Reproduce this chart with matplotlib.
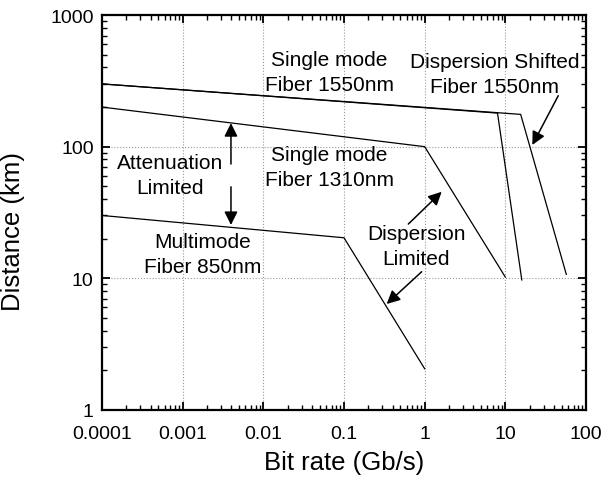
import matplotlib
matplotlib.use('Agg')
import matplotlib.pyplot as plt

plt.rcParams['font.family'] = ['Liberation Sans', 'DejaVu Sans']

##### DATA #####
# bit rate (Gb/s) / distance (km) break points
mm850_rate = [1e-4, 0.1, 1.0]
mm850_dist = [30, 20.3, 2.05]

sm1310_rate = [1e-4, 1.0, 10.0]
sm1310_dist = [200, 100, 10.2]

sm1550_rate = [1e-4, 8.0, 16.0]
sm1550_dist = [300, 180, 9.7]

dsf1550_rate = [1e-4, 15.5, 57.0]
dsf1550_dist = [300, 176, 10.7]

x_ticks = [1e-4, 1e-3, 1e-2, 1e-1, 1, 10, 100]
x_tick_labels = ['0.0001', '0.001', '0.01', '0.1', '1', '10', '100']
y_ticks = [1, 10, 100, 1000]
y_tick_labels = ['1', '10', '100', '1000']


fig = plt.figure(figsize=(6.06, 4.89), dpi=100)
ax = fig.add_axes([0.1683, 0.160, 0.7987, 0.807])

for rate, dist in [(mm850_rate, mm850_dist), (sm1310_rate, sm1310_dist),
                   (sm1550_rate, sm1550_dist), (dsf1550_rate, dsf1550_dist)]:
    ax.plot(rate, dist, color='black', lw=0.9)

ax.set_xscale('log')
ax.set_yscale('log')
ax.set_xlim(1e-4, 100)
ax.set_ylim(1, 1000)
ax.set_xticks(x_ticks)
ax.set_xticklabels(x_tick_labels)
ax.set_yticks(y_ticks)
ax.set_yticklabels(y_tick_labels)

ax.grid(True, which='major', color='#999999', linestyle=':', lw=0.8)
ax.tick_params(which='both', direction='in', top=True, right=True, labelsize=14)
ax.tick_params(axis='x', which='both', pad=11)
ax.tick_params(axis='y', which='both', pad=6)
ax.tick_params(which='major', length=6, width=1.3)
ax.tick_params(which='minor', length=3.5, width=1.0)
for s in ax.spines.values():
    s.set_linewidth(1.6)

ax.set_xlabel('Bit rate (Gb/s)', fontsize=18.5, labelpad=6)
ax.set_ylabel('Distance (km)', fontsize=18.5)
ax.yaxis.set_label_coords(-0.159, 0.453)

# labels
txt = dict(fontsize=15, ha='center', va='center', linespacing=1.4)
ax.text(0.066, 369, 'Single mode\nFiber 1550nm', **txt)
ax.text(7.3, 359, 'Dispersion Shifted\nFiber 1550nm', **txt)
ax.text(0.066, 70, 'Single mode\nFiber 1310nm', **txt)
ax.text(7.06e-4, 61.4, 'Attenuation\nLimited', **txt)
ax.text(1.76e-3, 15.3, 'Multimode\nFiber 850nm', **txt)
ax.text(0.79, 17.7, 'Dispersion\nLimited', **txt)

# arrows
arr = dict(arrowstyle='-|>', color='black', lw=1.1, mutation_scale=20,
           shrinkA=0, shrinkB=0)
ax.annotate('', xy=(3.97e-3, 151), xytext=(3.97e-3, 73.8), arrowprops=arr)
ax.annotate('', xy=(3.97e-3, 25.4), xytext=(3.97e-3, 49.5), arrowprops=arr)
ax.annotate('', xy=(1.625, 45.4), xytext=(0.627, 25.8), arrowprops=arr)
ax.annotate('', xy=(0.338, 6.37), xytext=(0.918, 11.2), arrowprops=arr)
ax.annotate('', xy=(21.6, 103), xytext=(45.3, 244), arrowprops=arr)

fig.savefig('out.png', dpi=100)
